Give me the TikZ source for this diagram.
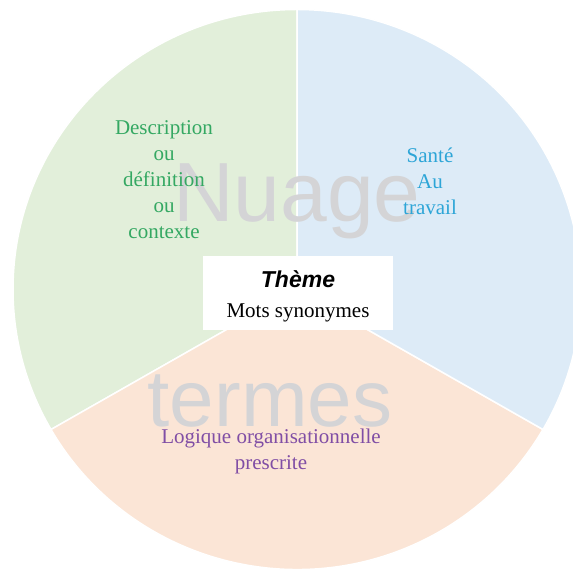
\documentclass[tikz,border=0pt]{standalone}
\usepackage{fontspec}
\setmainfont{Liberation Serif}
\newfontfamily\arialfont{Liberation Sans}
\usetikzlibrary{positioning}

\definecolor{secgreen}{RGB}{226,239,218}
\definecolor{secblue}{RGB}{221,235,247}
\definecolor{secorange}{RGB}{251,229,214}
\definecolor{txtgreen}{RGB}{52,168,98}
\definecolor{txtblue}{RGB}{45,165,215}
\definecolor{txtpurple}{RGB}{128,78,165}
\definecolor{wmgray}{RGB}{212,212,214}

\tikzset{
  sector/.style={draw=white, line width=1.5pt},
  sectortext/.style={align=center, inner sep=0pt, font=\fontsize{21}{26}\selectfont},
  watermark/.style={inner sep=0pt, text=wmgray, font=\arialfont\fontsize{84}{84}\selectfont}
}

\begin{document}
\begin{tikzpicture}[x=1pt, y=1pt]
  	\useasboundingbox (0,0) rectangle (573,572);
  	\clip (0,0) rectangle (573,572);
  	\coordinate (C) at (297,282.5);

  	\filldraw[sector, fill=secgreen] (C) -- ++(0,280) arc[start angle=90, end angle=210, x radius=284pt, y radius=280pt] -- cycle;
  	\filldraw[sector, fill=secorange] (C) -- ++(-246,-140) arc[start angle=210, end angle=330, x radius=284pt, y radius=280pt] -- cycle;
  	\filldraw[sector, fill=secblue] (C) -- ++(246,-140) arc[start angle=330, end angle=450, x radius=284pt, y radius=280pt] -- cycle;

  	\node[watermark, anchor=base] (W1) at (297,350) {Nuage};
  	\node[watermark, anchor=base, font=\arialfont\fontsize{80}{80}\selectfont] (W2) at (270,145) {termes};

  	\node[fill=white, minimum width=190pt, minimum height=74pt, inner sep=0pt] (B) at (298,279) {};
  	\node[anchor=base, inner sep=0pt, font=\arialfont\bfseries\itshape\fontsize{23}{23}\selectfont] (T1) at (298,284) {Thème};
  	\node[anchor=base, inner sep=0pt, font=\fontsize{21}{21}\selectfont] (T2) at (298,254) {Mots synonymes};

  	\node[sectortext, text=txtgreen] (L1) at (164,392) {Description\\ou\\définition\\ou\\contexte};
  	\node[sectortext, text=txtblue] (L2) at (430,391) {Santé\\Au\\travail};
  	\node[sectortext, text=txtpurple] (L3) at (271,121) {Logique organisationnelle\\prescrite};
\end{tikzpicture}
\end{document}
